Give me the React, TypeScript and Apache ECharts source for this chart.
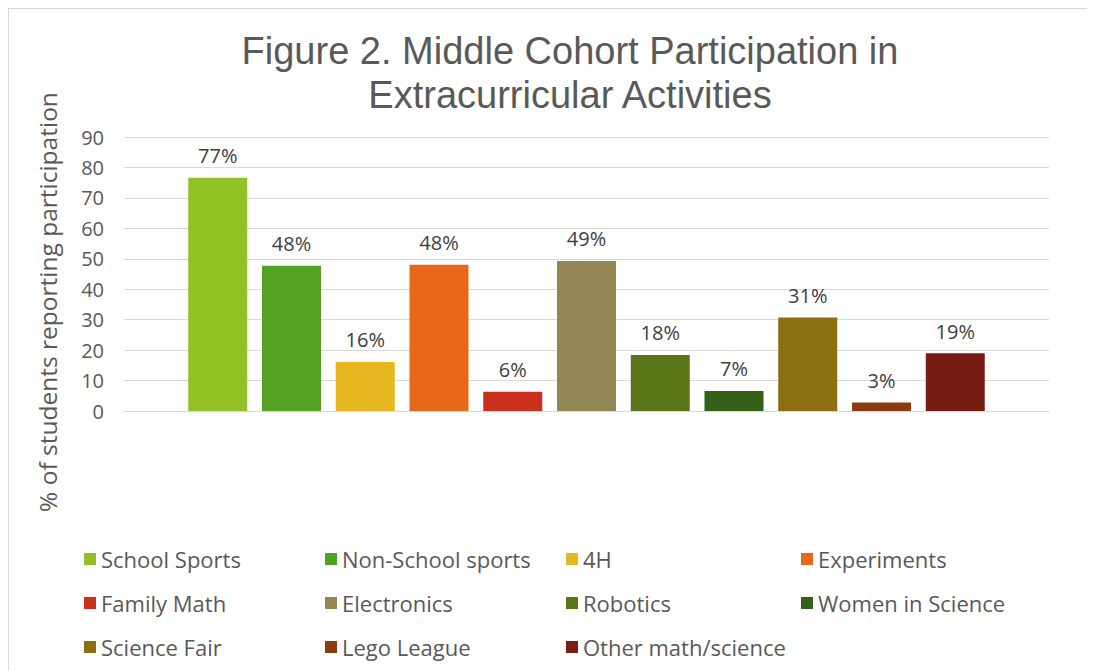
import React, { useEffect, useRef } from "react";
import * as echarts from "echarts";

const categories = [
  "School Sports",
  "Non-School sports",
  "4H",
  "Experiments",
  "Family Math",
  "Electronics",
  "Robotics",
  "Women in Science",
  "Science Fair",
  "Lego League",
  "Other math/science",
];
const values = [76.6, 47.7, 16.1, 48.0, 6.3, 49.3, 18.4, 6.6, 30.7, 2.8, 19.0];
const colors = [
  "#92C125",
  "#53A122",
  "#E6B820",
  "#E8681A",
  "#C9311E",
  "#918654",
  "#5A7618",
  "#335F17",
  "#8B6F10",
  "#8C3C0E",
  "#771D13",
];
const legendColumns = [
  ["School Sports", "Family Math", "Science Fair"],
  ["Non-School sports", "Electronics", "Lego League"],
  ["4H", "Robotics", "Other math/science"],
  ["Experiments", "Women in Science"],
];
const legendLefts = [75, 316, 557, 792];
const titleLines = [
  "Figure 2. Middle Cohort Participation in",
  "Extracurricular Activities",
];

const FONT = "'Open Sans', sans-serif";
const TITLE_FONT = "'Liberation Sans', Arial, sans-serif";

export default function App() {
  const ref = useRef<HTMLDivElement>(null);
  useEffect(() => {
    if (!ref.current) return;
    const chart = echarts.init(ref.current, undefined, { renderer: "svg" });
    chart.setOption({
      animation: false,
      backgroundColor: "#ffffff",
      title: titleLines.map((t, i) => ({
        text: t,
        left: 561,
        top: 21 + i * 44,
        padding: 0,
        textAlign: "center",
        textStyle: {
          fontFamily: TITLE_FONT,
          fontSize: 38,
          fontWeight: "normal",
          color: "#595959",
          lineHeight: 42,
        },
      })),
      graphic: [
        {
          type: "text",
          x: 38,
          y: 293,
          rotation: Math.PI / 2,
          style: {
            text: "% of students reporting participation",
            fontFamily: FONT,
            fontSize: 24.5,
            fill: "#595959",
            align: "center",
            verticalAlign: "middle",
          },
        },
      ],
      legend: legendColumns.map((col, i) => ({
        orient: "vertical",
        left: legendLefts[i],
        top: 538,
        padding: 0,
        itemWidth: 12,
        itemHeight: 12,
        itemGap: 20,
        icon: "rect",
        data: col,
        textStyle: {
          fontFamily: FONT,
          fontSize: 22,
          color: "#595959",
          lineHeight: 24,
        },
      })),
      grid: { left: 115, right: 55, top: 128, bottom: 269 },
      xAxis: {
        type: "category",
        data: [""],
        axisLine: { show: true, lineStyle: { color: "#d9d9d9", width: 1 } },
        axisTick: { show: false },
        axisLabel: { show: false },
      },
      yAxis: {
        type: "value",
        min: 0,
        max: 90,
        interval: 10,
        axisLine: { show: false },
        axisTick: { show: false },
        axisLabel: {
          fontFamily: FONT,
          fontSize: 20,
          color: "#595959",
          margin: 20,
        },
        splitLine: { lineStyle: { color: "#d9d9d9", width: 1 } },
      },
      series: categories.map((name, i) => ({
        type: "bar",
        name,
        data: [values[i]],
        barWidth: 59,
        barGap: "25%",
        itemStyle: { color: colors[i] },
        label: {
          show: true,
          position: "top",
          distance: 12,
          formatter: (p: any) => Math.round(p.value) + "%",
          fontFamily: FONT,
          fontSize: 20,
          color: "#404040",
        },
      })),
    });
    return () => chart.dispose();
  }, []);
  return (
    <div
      ref={ref}
      style={{ width: 1095, height: 671, border: "1px solid #d9d9d9" }}
    />
  );
}
